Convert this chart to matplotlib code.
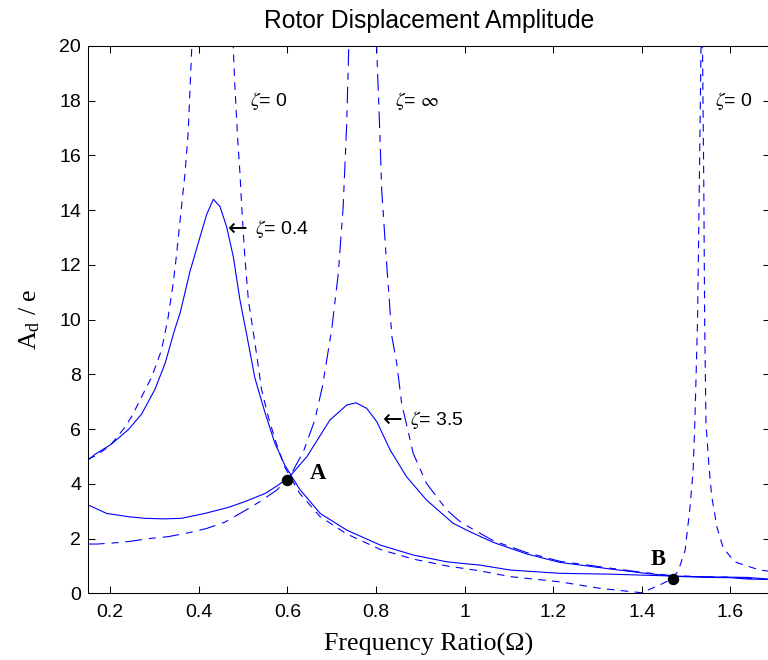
import matplotlib
matplotlib.use("Agg")
import matplotlib.pyplot as plt
from matplotlib.ticker import FormatStrFormatter

# values (frequency ratio, A_d / e)
# points above 20 stand for the resonance peaks that run off the top
x_z0 = [0.15, 0.17, 0.20, 0.233, 0.25, 0.271, 0.294, 0.316, 0.33, 0.343, 0.35, 0.361, 0.369, 0.376, 0.384,
        0.43,
        0.478, 0.482, 0.488, 0.493, 0.497, 0.504, 0.512, 0.527, 0.542, 0.557, 0.575, 0.594, 0.605, 0.628,
        0.674, 0.734, 0.81, 0.884, 0.96, 1.035, 1.103, 1.215, 1.306, 1.40, 1.44, 1.471, 1.483, 1.498,
        1.509, 1.516, 1.520, 1.526, 1.530, 1.534,
        1.5355,
        1.537, 1.540, 1.542, 1.545, 1.552, 1.558, 1.57, 1.584, 1.61, 1.637, 1.667, 1.70]
y_z0 = [4.90, 5.05, 5.40, 6.06, 6.50, 7.18, 7.91, 8.89, 10.0, 11.4, 12.4, 14.12, 15.35, 16.8, 19.85,
        100,
        19.9, 18.39, 16.56, 15.35, 14.12, 12.3, 10.72, 9.13, 7.43, 6.45, 5.48, 4.62, 4.30, 3.65,
        2.80, 2.17, 1.60, 1.25, 1.00, 0.82, 0.61, 0.42, 0.18, 0.02, 0.30, 0.55, 0.85, 1.58,
        3.16, 4.5, 6.33, 10.0, 15.0, 20.2,
        100,
        20.2, 15.0, 10.0, 6.2, 4.6, 3.53, 2.4, 1.65, 1.15, 1.0, 0.85, 0.78]

x_zinf = [0.15, 0.17, 0.20, 0.241, 0.294, 0.331, 0.376, 0.418, 0.459, 0.50, 0.538, 0.576, 0.605, 0.62,
          0.636, 0.662, 0.679, 0.70, 0.715, 0.726, 0.734, 0.739,
          0.77,
          0.801, 0.808, 0.813, 0.823, 0.836, 0.847, 0.858, 0.884, 0.914, 0.96, 0.99, 1.02, 1.065, 1.14,
          1.215, 1.328, 1.404, 1.471, 1.55, 1.60, 1.64, 1.70]
y_zinf = [1.80, 1.80, 1.83, 1.89, 2.01, 2.07, 2.21, 2.37, 2.60, 2.98, 3.35, 3.77, 4.25, 4.70,
          5.17, 6.33, 7.55, 9.62, 11.69, 14.12, 17.17, 20.2,
          100,
          20.2, 17.17, 14.74, 12.3, 9.38, 8.40, 6.94, 5.12, 4.02, 3.04, 2.62, 2.33, 1.92, 1.49,
          1.17, 0.92, 0.76, 0.64, 0.60, 0.59, 0.55, 0.50]

x_z04 = [0.15, 0.166, 0.20, 0.218, 0.241, 0.271, 0.301, 0.324, 0.346, 0.358, 0.365, 0.38, 0.403, 0.418,
         0.433, 0.448, 0.463, 0.478, 0.493, 0.512, 0.527, 0.55, 0.572, 0.594, 0.617, 0.628, 0.674, 0.734,
         0.81, 0.884, 0.96, 0.99, 1.035, 1.103, 1.215, 1.328, 1.471, 1.55, 1.64, 1.70]
y_z04 = [4.87, 5.08, 5.42, 5.66, 5.98, 6.55, 7.45, 8.40, 9.65, 10.25, 10.72, 11.75, 13.03, 13.85,
         14.40, 14.13, 13.39, 12.3, 10.72, 9.13, 7.85, 6.58, 5.48, 4.69, 4.08, 3.80, 2.92, 2.31,
         1.76, 1.40, 1.15, 1.10, 1.03, 0.85, 0.73, 0.70, 0.63, 0.60, 0.58, 0.50]

x_z35 = [0.15, 0.192, 0.241, 0.279, 0.32, 0.361, 0.414, 0.467, 0.504, 0.55, 0.58, 0.607, 0.644, 0.696,
         0.734, 0.755, 0.779, 0.802, 0.832, 0.869, 0.914, 0.974, 1.012, 1.065, 1.14, 1.215, 1.328,
         1.404, 1.471, 1.55, 1.60, 1.64, 1.70]
y_z35 = [3.23, 2.92, 2.80, 2.74, 2.72, 2.74, 2.92, 3.14, 3.35, 3.65, 3.96, 4.30, 4.99, 6.33,
         6.88, 6.96, 6.76, 6.27, 5.24, 4.26, 3.41, 2.56, 2.25, 1.86, 1.44, 1.13, 0.89,
         0.74, 0.62, 0.58, 0.57, 0.52, 0.50]

# fixed points A and B
fixed_x = [0.60, 1.471]
fixed_y = [4.14, 0.52]
fixed_names = ["A", "B"]

plt.rcParams["lines.scale_dashes"] = False
plt.rcParams["mathtext.fontset"] = "stix"
plt.rcParams["font.family"] = ["Liberation Sans", "DejaVu Sans"]

fig = plt.figure(figsize=(7.68, 6.6), dpi=100)
ax = fig.add_axes([88 / 768, 66.7 / 660, 682 / 768, 547.3 / 660])

blue = "#0000ff"
ax.plot(x_z0, y_z0, color=blue, lw=0.8, linestyle=(0, (5.5, 4.5)))
ax.plot(x_zinf, y_zinf, color=blue, lw=0.8, linestyle=(0, (12, 5, 5, 5)))
ax.plot(x_z04, y_z04, color=blue, lw=0.8)
ax.plot(x_z35, y_z35, color=blue, lw=0.8)
ax.plot(fixed_x, fixed_y, "o", color="black", markersize=7.2)

ax.set_xlim(0.15, 0.15 + 682 / 443)
ax.set_ylim(0, 20)
ax.set_xticks([0.2, 0.4, 0.6, 0.8, 1.0, 1.2, 1.4, 1.6])
ax.set_yticks(range(0, 21, 2))
ax.xaxis.set_major_formatter(FormatStrFormatter("%g"))
ax.tick_params(direction="in", length=4.9, width=0.75, labelsize=14, top=True, right=True)
ax.tick_params(axis="x", pad=8)
ax.tick_params(axis="y", pad=5)
for s in ax.spines.values():
    s.set_linewidth(0.75)

ax.set_title("Rotor Displacement Amplitude", fontsize=17.7, pad=13)
ax.set_xlabel("Frequency Ratio(\u03a9)", fontsize=18.7, family="Liberation Serif")
ax.set_ylabel("$\\mathregular{A_d}$ / e", fontsize=18.7, family="Liberation Serif")
ax.xaxis.set_label_coords(0.5, -0.072)
ax.yaxis.set_label_coords(-0.068, 0.5)

ann = 14
ax.text(0.516, 18.0, "$\\zeta$= 0", fontsize=ann, va="center")
ax.text(0.843, 18.0, "$\\zeta$= $\\infty$", fontsize=ann, va="center")
ax.text(1.565, 18.0, "$\\zeta$= 0", fontsize=ann, va="center")

# the arrows in the reference are wide, so draw them with DejaVu Sans
ax.text(0.466, 13.33, "\u2190", fontsize=17, va="center", family="DejaVu Sans")
ax.text(0.526, 13.33, "$\\zeta$= 0.4", fontsize=ann, va="center")
ax.text(0.816, 6.33, "\u2190", fontsize=17, va="center", family="DejaVu Sans")
ax.text(0.876, 6.33, "$\\zeta$= 3.5", fontsize=ann, va="center")

ax.text(0.651, 4.36, fixed_names[0], fontsize=16.3, family="Liberation Serif", weight="bold", va="center")
ax.text(1.419, 1.22, fixed_names[1], fontsize=16.3, family="Liberation Serif", weight="bold", va="center")

fig.savefig("out.png", dpi=100)
